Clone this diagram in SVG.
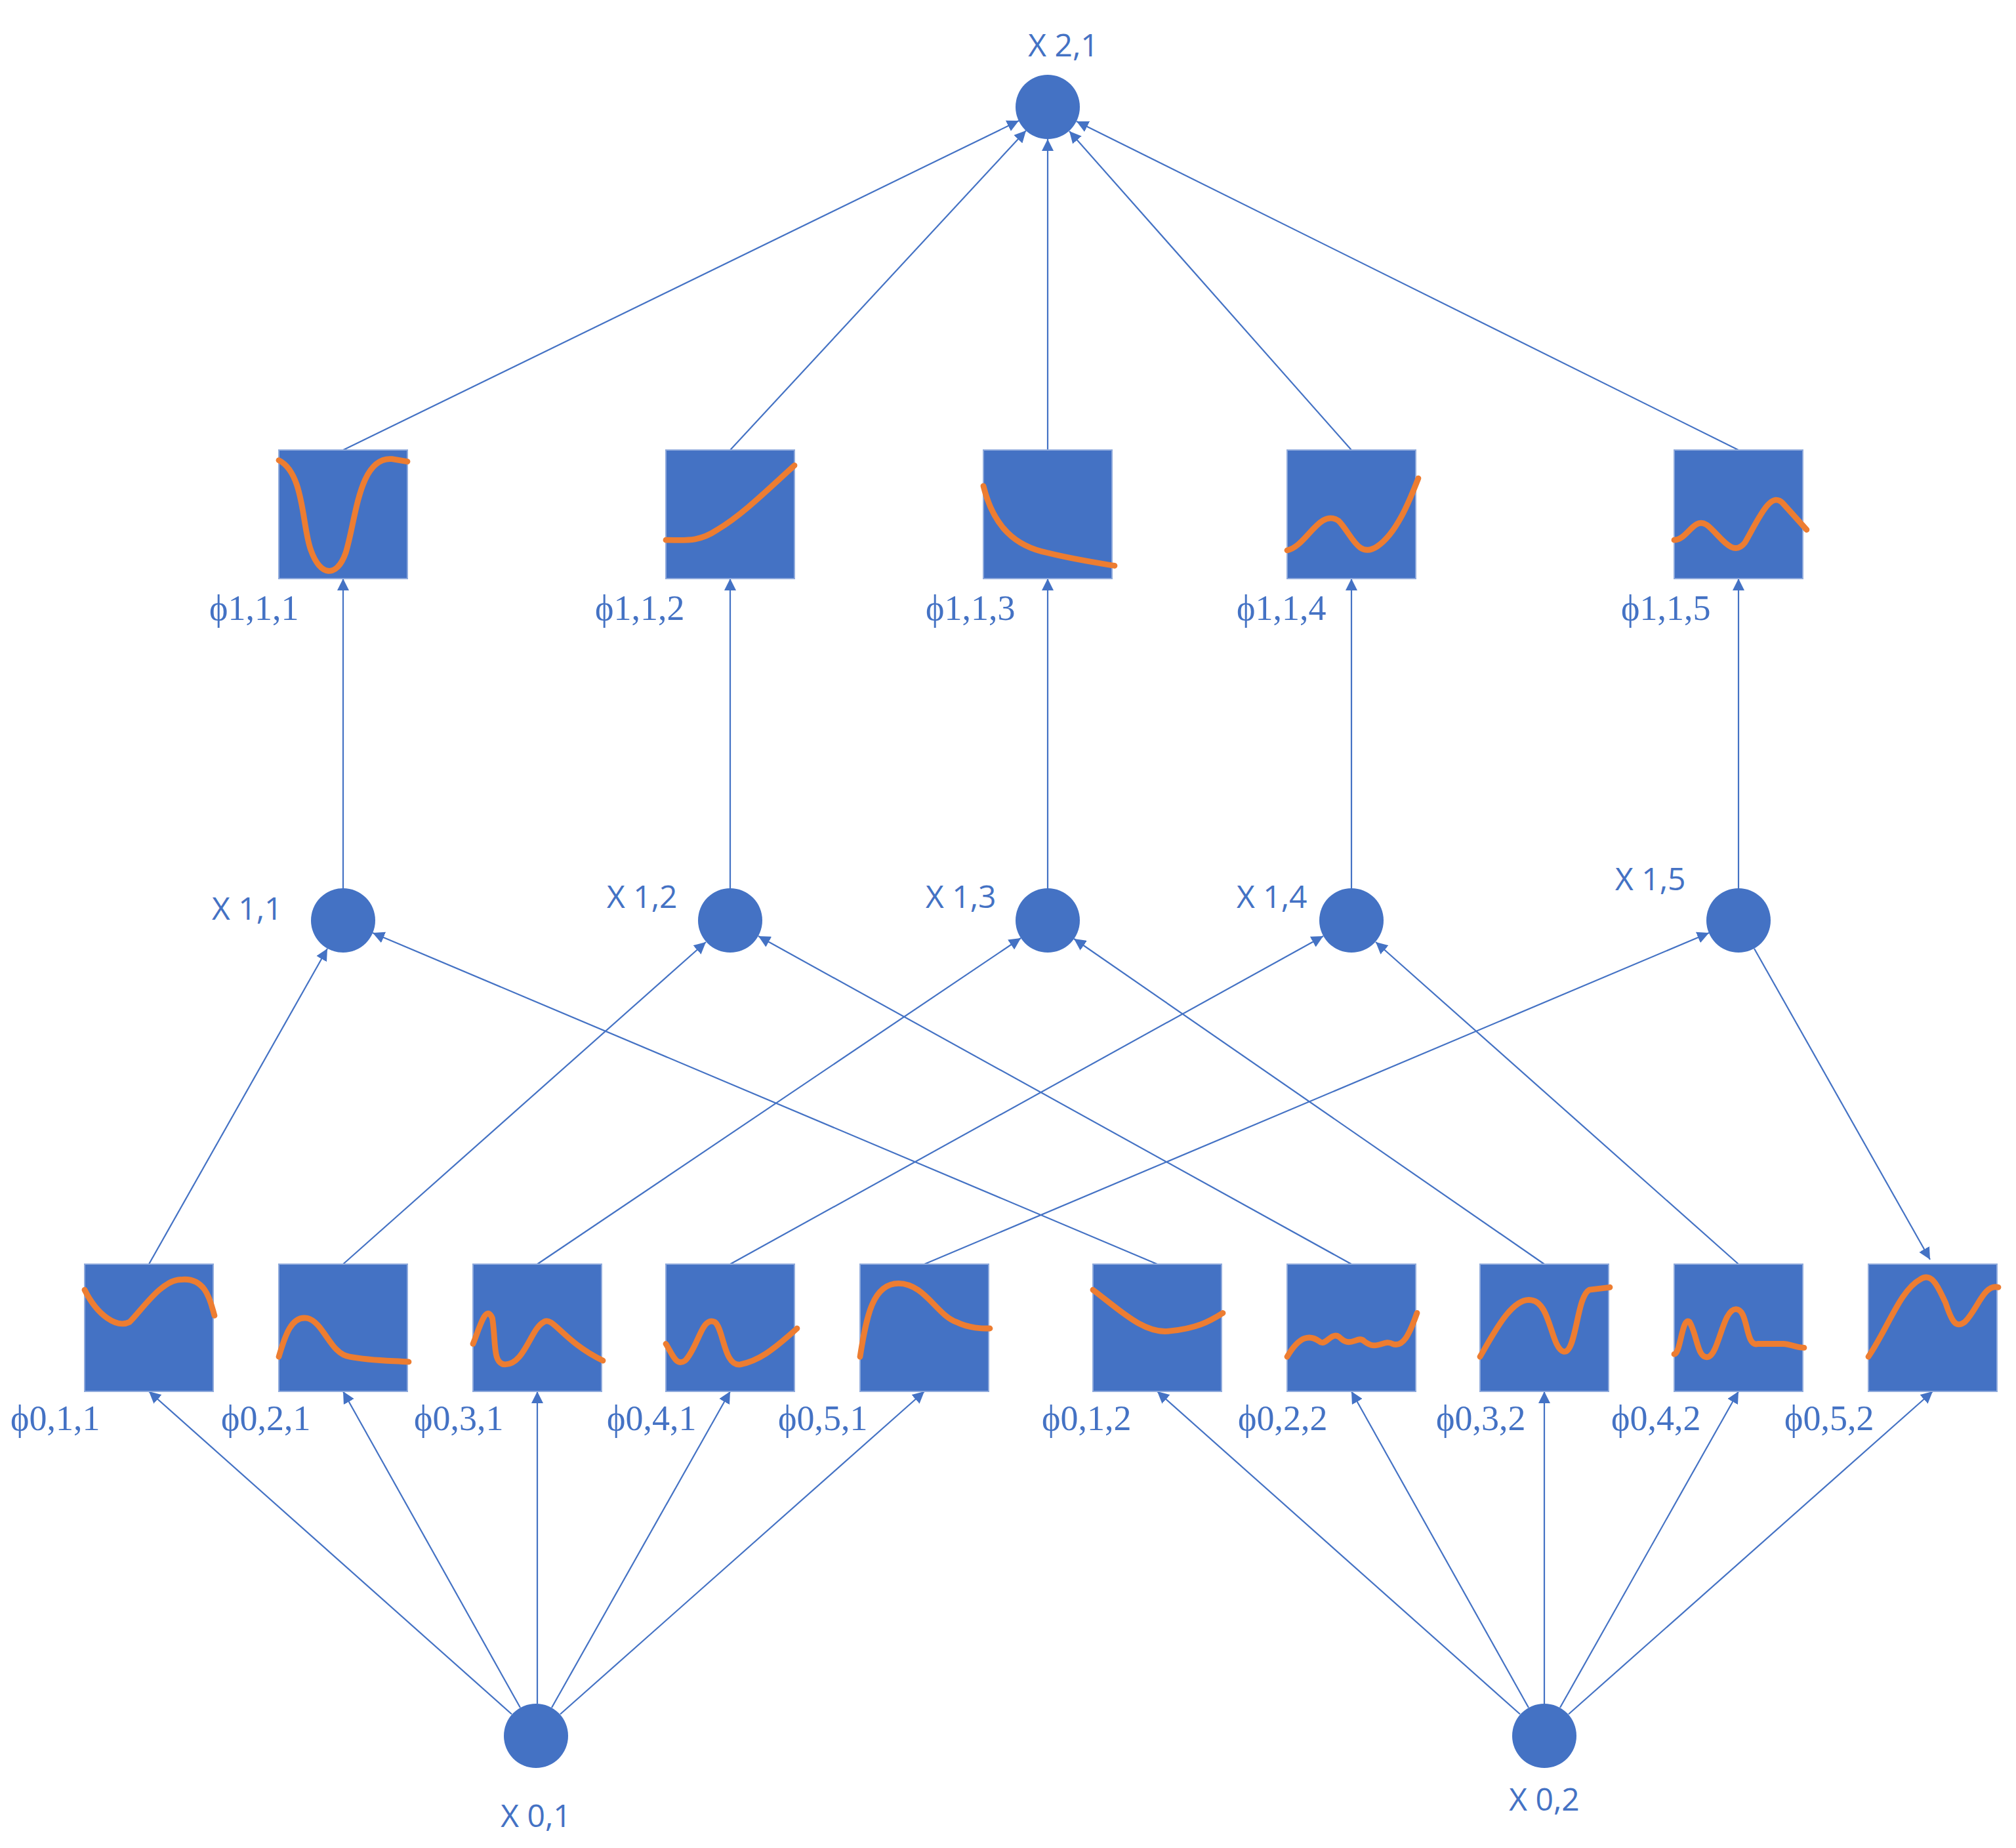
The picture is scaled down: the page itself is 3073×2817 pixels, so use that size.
<svg xmlns="http://www.w3.org/2000/svg" width="3073" height="2817" viewBox="0 0 3073 2817">
<style>
.c{fill:#4472C4}
.b{fill:#4472C4;stroke:#8FAADC;stroke-width:2}
.k{fill:none;stroke:#ED7D31;stroke-width:4.5;stroke-linecap:round;stroke-linejoin:round}
.e{stroke:#4472C4;stroke-width:2.2;fill:none;marker-end:url(#a)}
.x{font-family:"Open Sans","Liberation Sans",sans-serif;font-size:48px;fill:#4472C4}
.p{font-family:"Liberation Serif",serif;font-size:54px;fill:#4472C4}
</style>
<defs>
<marker id="a" viewBox="0 0 10 10" refX="10" refY="5" markerWidth="18" markerHeight="18" markerUnits="userSpaceOnUse" orient="auto"><path d="M0,0L10,5L0,10z" fill="#4472C4"/></marker>
</defs>
<g id="connectors">
<line class="e" x1="523" y1="686" x2="1553" y2="184"/>
<line class="e" x1="1113" y1="686" x2="1564" y2="199"/>
<line class="e" x1="1597" y1="686" x2="1597" y2="212"/>
<line class="e" x1="2060" y1="686" x2="1630" y2="200"/>
<line class="e" x1="2650" y1="686" x2="1641" y2="185"/>
<line class="e" x1="523" y1="1354" x2="523" y2="882"/>
<line class="e" x1="1113" y1="1354" x2="1113" y2="882"/>
<line class="e" x1="1597" y1="1354" x2="1597" y2="882"/>
<line class="e" x1="2060" y1="1354" x2="2060" y2="882"/>
<line class="e" x1="2650" y1="1354" x2="2650" y2="882"/>
<line class="e" x1="227" y1="1927" x2="499" y2="1446"/>
<line class="e" x1="523" y1="1927" x2="1076" y2="1436"/>
<line class="e" x1="819" y1="1927" x2="1556" y2="1430"/>
<line class="e" x1="1113" y1="1927" x2="2017" y2="1427"/>
<line class="e" x1="1409" y1="1927" x2="2605" y2="1422"/>
<line class="e" x1="1764" y1="1927" x2="568" y2="1422"/>
<line class="e" x1="2060" y1="1927" x2="1156" y2="1427"/>
<line class="e" x1="2354" y1="1927" x2="1637" y2="1431"/>
<line class="e" x1="2650" y1="1927" x2="2097" y2="1436"/>
<line class="e" x1="2674" y1="1446" x2="2942" y2="1920"/>
<line class="e" x1="780" y1="2613" x2="227" y2="2121"/>
<line class="e" x1="793" y1="2603" x2="523" y2="2121"/>
<line class="e" x1="819" y1="2597" x2="819" y2="2121"/>
<line class="e" x1="841" y1="2603" x2="1113" y2="2121"/>
<line class="e" x1="854" y1="2613" x2="1409" y2="2121"/>
<line class="e" x1="2317" y1="2613" x2="1764" y2="2121"/>
<line class="e" x1="2330" y1="2603" x2="2060" y2="2121"/>
<line class="e" x1="2354" y1="2597" x2="2354" y2="2121"/>
<line class="e" x1="2378" y1="2603" x2="2650" y2="2121"/>
<line class="e" x1="2391" y1="2613" x2="2946" y2="2121"/>
</g>
<g id="X21"><circle class="c" cx="1597" cy="163" r="49"/><text class="x" x="1621" y="86" text-anchor="middle">X 2,1</text></g>
<g id="phi111"><rect class="b" x="425" y="686" width="196" height="196"/><g transform="translate(425,686) scale(1.96)"><path class="k" d="M0,8 C20,18 18,60 25,78 C32,98 45,100 52,80 C60,55 62,5 88,7 L100,9"/></g><text class="p" x="319" y="945">ϕ1,1,1</text></g>
<g id="phi112"><rect class="b" x="1015" y="686" width="196" height="196"/><g transform="translate(1015,686) scale(1.96)"><path class="k" d="M0,70 C15,70 25,72 40,62 C60,50 80,30 100,12"/></g><text class="p" x="907" y="945">ϕ1,1,2</text></g>
<g id="phi113"><rect class="b" x="1499" y="686" width="196" height="196"/><g transform="translate(1499,686) scale(1.96)"><path class="k" d="M0,28 C8,60 25,75 50,80 C70,85 90,88 102,90"/></g><text class="p" x="1411" y="945">ϕ1,1,3</text></g>
<g id="phi114"><rect class="b" x="1962" y="686" width="196" height="196"/><g transform="translate(1962,686) scale(1.96)"><path class="k" d="M0,78 C15,75 25,45 40,55 C50,65 55,85 70,75 C85,65 95,40 102,22"/></g><text class="p" x="1885" y="945">ϕ1,1,4</text></g>
<g id="phi115"><rect class="b" x="2552" y="686" width="196" height="196"/><g transform="translate(2552,686) scale(1.96)"><path class="k" d="M0,70 C10,70 15,52 25,58 C35,65 45,85 55,72 C65,55 75,30 85,42 L103,62"/></g><text class="p" x="2471" y="945">ϕ1,1,5</text></g>
<g id="X11"><circle class="c" cx="523" cy="1403" r="49"/><text class="x" x="323" y="1402">X 1,1</text></g>
<g id="X12"><circle class="c" cx="1113" cy="1403" r="49"/><text class="x" x="925" y="1384">X 1,2</text></g>
<g id="X13"><circle class="c" cx="1597" cy="1403" r="49"/><text class="x" x="1411" y="1384">X 1,3</text></g>
<g id="X14"><circle class="c" cx="2060" cy="1403" r="49"/><text class="x" x="1885" y="1384">X 1,4</text></g>
<g id="X15"><circle class="c" cx="2650" cy="1403" r="49"/><text class="x" x="2462" y="1357">X 1,5</text></g>
<g id="phi011"><rect class="b" x="129" y="1927" width="196" height="194"/><g transform="translate(129,1927) scale(1.96)"><path class="k" d="M0,20 C10,40 25,50 35,45 C45,35 60,12 75,12 C95,10 98,30 101,40"/></g><text class="p" x="16" y="2180">ϕ0,1,1</text></g>
<g id="phi021"><rect class="b" x="425" y="1927" width="196" height="194"/><g transform="translate(425,1927) scale(1.96)"><path class="k" d="M0,72 C5,55 10,40 22,42 C35,45 40,70 55,72 C70,75 85,75 101,76"/></g><text class="p" x="337" y="2180">ϕ0,2,1</text></g>
<g id="phi031"><rect class="b" x="721" y="1927" width="196" height="194"/><g transform="translate(721,1927) scale(1.96)"><path class="k" d="M0,62 C5,50 10,30 15,42 C18,60 15,78 25,78 C40,78 45,50 55,45 C62,40 70,60 101,75"/></g><text class="p" x="631" y="2180">ϕ0,3,1</text></g>
<g id="phi041"><rect class="b" x="1015" y="1927" width="196" height="194"/><g transform="translate(1015,1927) scale(1.96)"><path class="k" d="M0,62 C5,70 8,80 15,75 C25,65 28,40 38,45 C45,50 45,80 58,78 C72,75 82,68 102,50"/></g><text class="p" x="925" y="2180">ϕ0,4,1</text></g>
<g id="phi051"><rect class="b" x="1311" y="1927" width="196" height="194"/><g transform="translate(1311,1927) scale(1.96)"><path class="k" d="M0,72 C5,40 10,15 30,15 C50,15 60,40 75,45 C85,50 95,50 101,50"/></g><text class="p" x="1186" y="2180">ϕ0,5,1</text></g>
<g id="phi012"><rect class="b" x="1666" y="1927" width="196" height="194"/><g transform="translate(1666,1927) scale(1.96)"><path class="k" d="M0,20 C20,35 40,55 60,52 C80,50 90,45 101,38"/></g><text class="p" x="1588" y="2180">ϕ0,1,2</text></g>
<g id="phi022"><rect class="b" x="1962" y="1927" width="196" height="194"/><g transform="translate(1962,1927) scale(1.96)"><path class="k" d="M0,72 C10,55 18,55 25,60 C30,65 35,50 42,58 C50,65 55,55 60,60 C70,68 75,58 82,62 C90,65 95,55 101,38"/></g><text class="p" x="1887" y="2180">ϕ0,2,2</text></g>
<g id="phi032"><rect class="b" x="2256" y="1927" width="196" height="194"/><g transform="translate(2256,1927) scale(1.96)"><path class="k" d="M0,72 C10,55 25,25 40,28 C55,30 55,65 65,68 C75,70 75,25 85,20 L101,18"/></g><text class="p" x="2189" y="2180">ϕ0,3,2</text></g>
<g id="phi042"><rect class="b" x="2552" y="1927" width="196" height="194"/><g transform="translate(2552,1927) scale(1.96)"><path class="k" d="M0,70 C5,70 6,40 12,45 C18,55 18,75 27,72 C35,68 38,35 48,35 C58,35 55,65 65,62 L85,62 C90,62 95,65 101,65"/></g><text class="p" x="2456" y="2180">ϕ0,4,2</text></g>
<g id="phi052"><rect class="b" x="2848" y="1927" width="196" height="194"/><g transform="translate(2848,1927) scale(1.96)"><path class="k" d="M0,72 C15,50 25,20 40,12 C50,5 55,20 60,30 C65,45 68,50 75,45 C85,35 90,15 101,18"/></g><text class="p" x="2720" y="2180">ϕ0,5,2</text></g>
<g id="X01"><circle class="c" cx="817" cy="2646" r="49"/><text class="x" x="817" y="2785" text-anchor="middle">X 0,1</text></g>
<g id="X02"><circle class="c" cx="2354" cy="2646" r="49"/><text class="x" x="2354" y="2760" text-anchor="middle">X 0,2</text></g>
</svg>
